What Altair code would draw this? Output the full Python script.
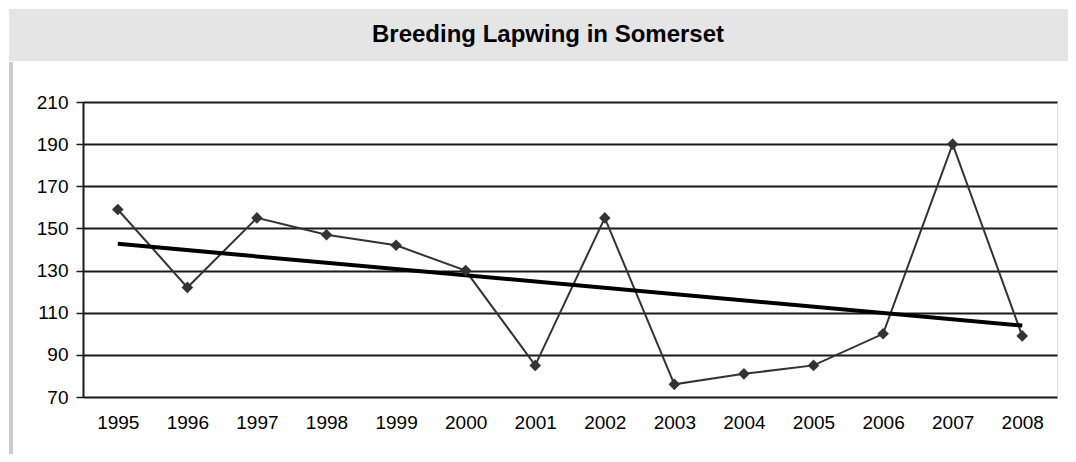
import altair as alt
import pandas as pd

years = [1995, 1996, 1997, 1998, 1999, 2000, 2001, 2002, 2003, 2004, 2005, 2006, 2007, 2008]
counts = [159, 122, 155, 147, 142, 130, 85, 155, 76, 81, 85, 100, 190, 99]
y_ticks = [70, 90, 110, 130, 150, 170, 190, 210]
title_text = "Breeding Lapwing in Somerset"

df = pd.DataFrame({"year": years, "count": counts})

FONT = "Liberation Sans"
W, H = 974, 295

x_enc = alt.X("year:Q", scale=alt.Scale(domain=[1994.5, 2008.5], nice=False, zero=False),
              axis=alt.Axis(values=years, format="d", grid=False, ticks=False, domain=False,
                            labelFontSize=19, labelFont=FONT, labelColor="#000",
                            labelPadding=16, title=None, labelFlush=False))
y_enc = alt.Y("count:Q", scale=alt.Scale(domain=[70, 210], nice=False, zero=False),
              axis=alt.Axis(values=y_ticks, grid=True, gridColor="#1a1a1a", gridWidth=2,
                            gridOpacity=1, ticks=True, tickSize=7, tickColor="#1a1a1a",
                            tickWidth=1.5, domain=True, domainColor="#1a1a1a", domainWidth=2,
                            labelFontSize=19, labelFont=FONT, labelColor="#000",
                            labelPadding=8, title=None))

base = alt.Chart(df)

band = base.mark_rect(color="#e5e5e5", clip=False).encode(
    x=alt.value(-74), x2=alt.value(985), y=alt.value(-93), y2=alt.value(-41))
side = base.mark_rule(color="#cccccc", strokeWidth=3, clip=False).encode(
    x=alt.value(-72), y=alt.value(-40), y2=alt.value(352))
title = alt.Chart(pd.DataFrame({"t": [title_text]})).mark_text(
    font=FONT, fontSize=24, fontWeight="bold", color="#000", baseline="middle",
    align="center", clip=False).encode(
    x=alt.value(465), y=alt.value(-67), text="t:N")

line = base.mark_line(color="#333333", strokeWidth=2).encode(x=x_enc, y=y_enc)
pts = base.mark_point(shape="diamond", filled=True, size=135, color="#333333", opacity=1).encode(
    x="year:Q", y="count:Q")
trend = base.transform_regression("year", "count", method="linear").mark_line(
    color="#000000", strokeWidth=4).encode(x="year:Q", y="count:Q")

chart = alt.layer(band, side, title, line, trend, pts).properties(
    width=W, height=H,
    autosize=alt.AutoSizeParams(type="none"),
    padding={"left": 75, "top": 94, "right": 11, "bottom": 57},
).configure_view(stroke="#333333", strokeWidth=2).configure(background="white")

chart.save("out.html", embed_options={"renderer": "svg", "actions": False})
